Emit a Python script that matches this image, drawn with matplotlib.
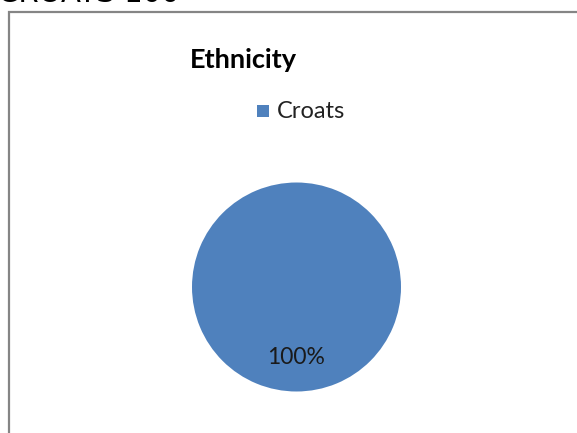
import matplotlib
matplotlib.use('Agg')
from matplotlib import pyplot as plt
from matplotlib.patches import Rectangle

#Data
labels = ['Croats']
shares = [100]
colors = ['#4F81BD']
chart_title = 'Ethnicity'
caption = 'CROATS 100'

W, H = 577, 433
fig = plt.figure(figsize=(W / 100, H / 100), dpi=100)
plt.rcParams['font.family'] = ['Lato', 'DejaVu Sans']

#Cropped caption at the very top (only its lower part is visible, as in the source)
fig.text(-2 / W, 1 - 2 / H, caption, fontsize=21, color='black',
         family=['DejaVu Sans'], va='baseline', ha='left')

#Chart border (runs off the right and bottom edges)
fig.patches.append(Rectangle((8.5 / W, -0.1), 1.2, 1 - 11.5 / H + 0.1,
                             transform=fig.transFigure, fill=False,
                             edgecolor='#858585', linewidth=1.6))

#Title and legend
fig.text(190 / W, 1 - 68 / H, chart_title, fontsize=19.5, fontweight='bold',
         va='baseline', ha='left')
fig.patches.append(Rectangle((257 / W, 1 - 117 / H), 12 / W, 12 / H,
                             transform=fig.transFigure, facecolor=colors[0],
                             edgecolor='none'))
fig.text(277 / W, 1 - 118 / H, labels[0], fontsize=17, va='baseline', ha='left',
         color='#222222')

#Pie
cx, cy, r = 296.5, 287, 104.5
ax = fig.add_axes([(cx - r) / W, 1 - (cy + r) / H, 2 * r / W, 2 * r / H])
ax.pie(shares, colors=colors, startangle=90, autopct='%1.0f%%', pctdistance=0.67,
       radius=1, textprops={'fontsize': 16.5, 'color': '#1a1a1a'})
ax.set_xlim(-1, 1)
ax.set_ylim(-1, 1)
ax.set_aspect('equal')
ax.axis('off')

plt.savefig('out.png', dpi=100)
